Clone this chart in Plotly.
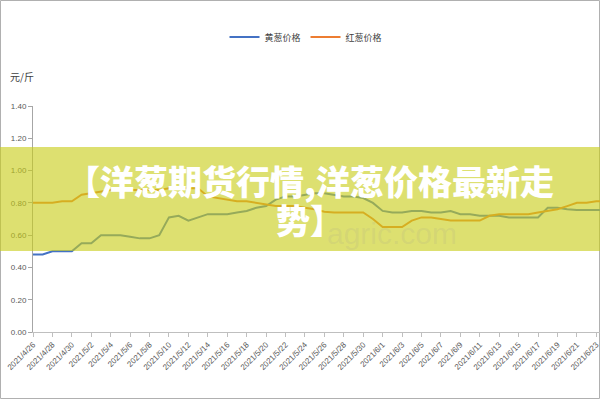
import plotly.graph_objects as go
import pandas as pd

# daily categories 2021/4/26 .. 2021/6/24
dates = [f"{d.year}/{d.month}/{d.day}" for d in pd.date_range("2021-04-26", "2021-06-24")]

# 黄葱价格 (yuan per jin)
yellow_onion = [0.48, 0.48, 0.50, 0.50, 0.50, 0.55, 0.55, 0.60, 0.60, 0.60,
                0.59, 0.58, 0.58, 0.60, 0.71, 0.72, 0.69, 0.71, 0.73, 0.73,
                0.73, 0.74, 0.75, 0.77, 0.78, 0.82, 0.84, 0.84, 0.85, 0.86,
                0.86, 0.85, 0.84, 0.84, 0.83, 0.80, 0.75, 0.74, 0.74, 0.75,
                0.75, 0.74, 0.74, 0.75, 0.73, 0.73, 0.72, 0.72, 0.72, 0.71,
                0.71, 0.71, 0.71, 0.77, 0.77, 0.76, 0.755, 0.755, 0.755, 0.755]

# 红葱价格
red_onion = [0.80, 0.80, 0.80, 0.81, 0.81, 0.85, 0.86, 0.87, 0.88, 0.88,
             0.88, 0.88, 0.88, 0.88, 0.89, 0.89, 0.89, 0.89, 0.84, 0.83,
             0.82, 0.81, 0.81, 0.80, 0.79, 0.78, 0.78, 0.78, 0.77, 0.76,
             0.745, 0.74, 0.74, 0.74, 0.74, 0.70, 0.65, 0.65, 0.65, 0.69,
             0.71, 0.71, 0.70, 0.69, 0.69, 0.69, 0.69, 0.72, 0.73, 0.73,
             0.73, 0.73, 0.74, 0.75, 0.76, 0.78, 0.80, 0.80, 0.81, 0.81]

y_ticks = [0.0, 0.2, 0.4, 0.6, 0.8, 1.0, 1.2, 1.4]
x_ticks = dates[0:59:2]

title_lines = ["【洋葱期货行情,洋葱价格最新走", "势】"]

W, H = 600, 400
L, R, T, B = 33, 0, 106, 68
PW, PH = W - L - R, H - T - B


def px_x(px):
    return (px - L) / PW


def px_y(py):
    return (H - B - py) / PH


cjk = "Noto Sans CJK SC"
tick_font = dict(family="Liberation Sans, " + cjk, size=8, color="#595959")

fig = go.Figure()
fig.add_trace(go.Scatter(x=dates, y=yellow_onion, mode="lines", name="黄葱价格",
                         line=dict(color="#4472C4", width=2)))
fig.add_trace(go.Scatter(x=dates, y=red_onion, mode="lines", name="红葱价格",
                         line=dict(color="#ED7D31", width=2)))

fig.update_layout(
    width=W, height=H,
    margin=dict(l=L, r=R, t=T, b=B, autoexpand=False),
    paper_bgcolor="white", plot_bgcolor="white",
    showlegend=True,
    legend=dict(orientation="h", x=px_x(306), xanchor="center", y=px_y(37), yanchor="middle",
                font=dict(family=cjk, size=9, color="#404040"), bgcolor="rgba(0,0,0,0)"),
)

fig.update_xaxes(type="category", range=[0, 58 + 3.7 / 9.72], automargin=False,
                 tickmode="array", tickvals=x_ticks, ticktext=x_ticks,
                 tickangle=-45, tickfont=tick_font,
                 showgrid=False, zeroline=False,
                 showline=True, linecolor="#bfbfbf", linewidth=1,
                 ticks="outside", ticklen=4, tickcolor="#bfbfbf")
fig.update_yaxes(range=[0, 1.4], tickvals=y_ticks, tickformat=".2f", automargin=False,
                 tickfont=tick_font,
                 showgrid=False, zeroline=False,
                 showline=True, linecolor="#a6a6a6", linewidth=1,
                 ticks="outside", ticklen=4, tickcolor="#a6a6a6")

# y axis unit
fig.add_annotation(xref="paper", yref="paper", x=px_x(22), y=px_y(77), text="元/斤",
                   xanchor="center", yanchor="middle",
                   showarrow=False, font=dict(family=cjk, size=10, color="#404040"))

# faint watermark
fig.add_annotation(xref="paper", yref="paper", x=px_x(392), y=px_y(233), text="agric.com",
                   xanchor="center", yanchor="middle",
                   showarrow=False, font=dict(family="Liberation Sans", size=30,
                                              color="rgba(150,150,150,0.15)"))

# translucent banner across the chart
fig.add_shape(type="rect", xref="paper", yref="paper",
              x0=px_x(0), x1=px_x(W), y0=px_y(251), y1=px_y(147),
              fillcolor="rgba(200,205,24,0.62)", line=dict(width=0), layer="above")

# banner title, two lines
for text, py in zip(title_lines, [180, 219]):
    fig.add_annotation(xref="paper", yref="paper", x=px_x(310), y=px_y(py), text=text,
                       xanchor="center", yanchor="middle",
                       showarrow=False, font=dict(family=cjk, size=34, color="white", weight=900))

# thin frame around the picture
fig.add_shape(type="rect", xref="paper", yref="paper",
              x0=px_x(0.5), x1=px_x(W - 0.5), y0=px_y(H - 1.5), y1=px_y(0.5),
              line=dict(color="#b0b0b0", width=1), fillcolor="rgba(0,0,0,0)", layer="below")

fig.write_html("out.html", config={"displayModeBar": False},
               post_script="document.body.style.margin='0';")
